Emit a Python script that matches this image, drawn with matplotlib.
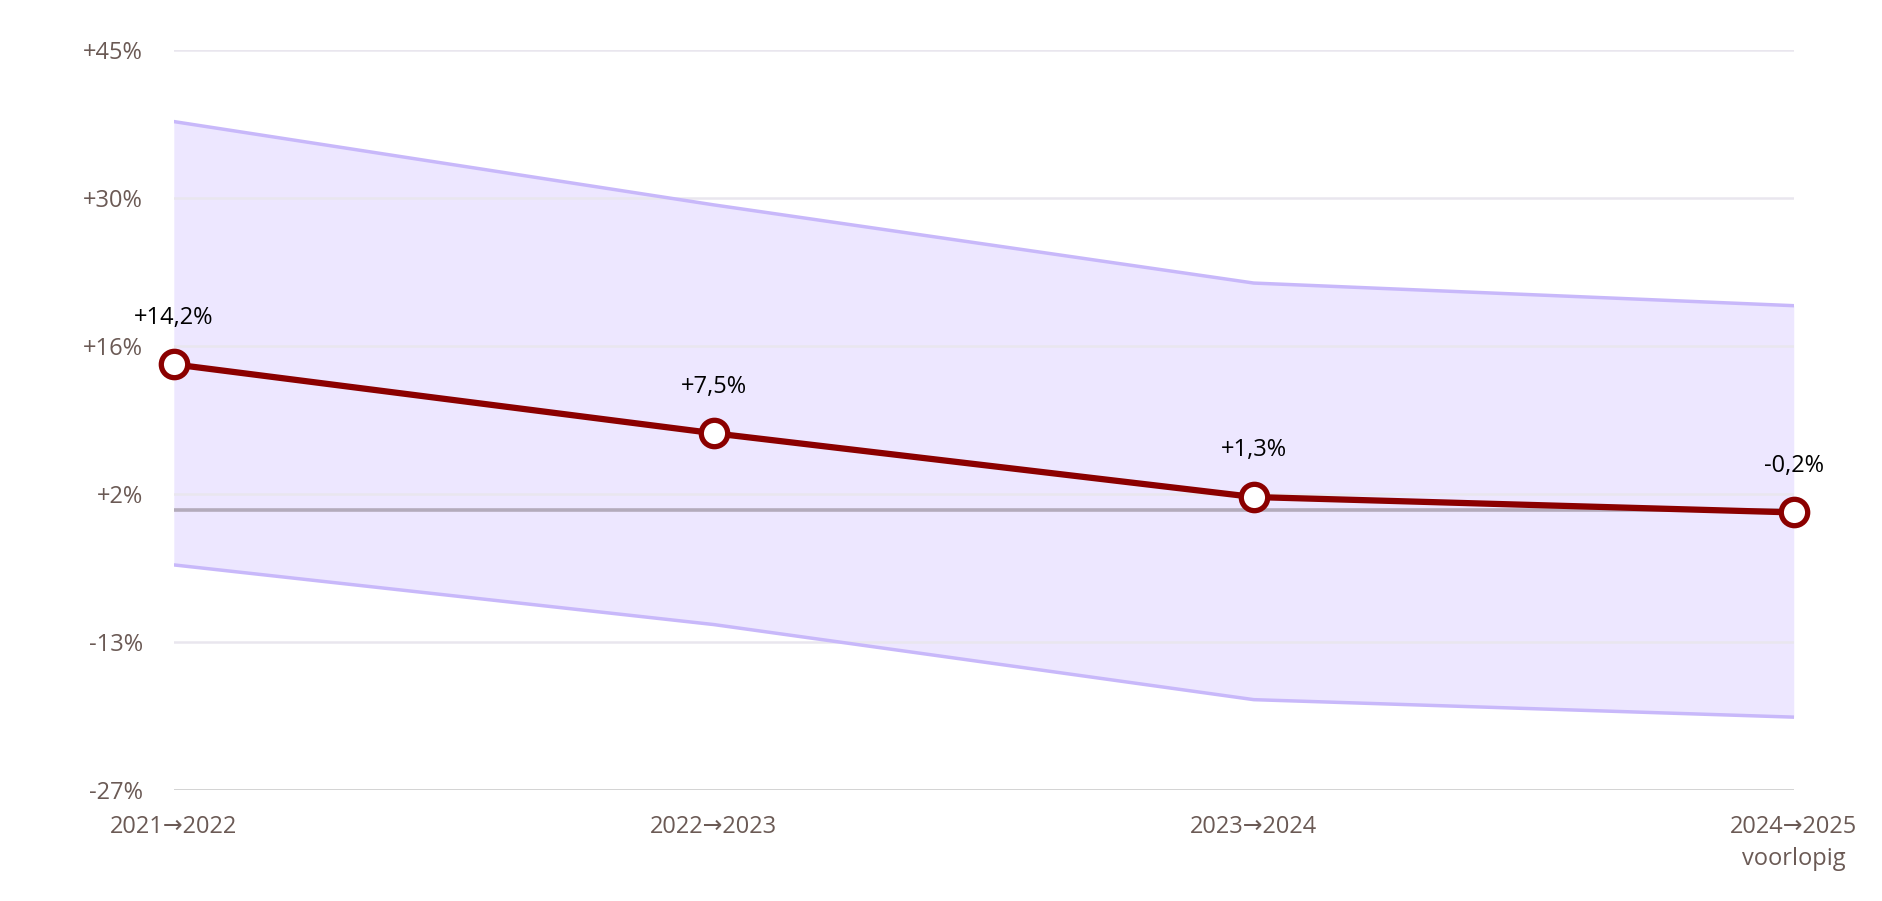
import matplotlib as mpl
mpl.use("Agg")
import matplotlib.pyplot as plt

periods = ["2021→2022", "2022→2023", "2023→2024", "2024→2025\nvoorlopig"]
change = [14.2, 7.5, 1.3, -0.2]
labels = ["+14,2%", "+7,5%", "+1,3%", "-0,2%"]
upper = [37.8, 29.7, 22.1, 19.9]
lower = [-5.3, -11.1, -18.4, -20.1]
yticks = [-27.2, -12.8, 1.6, 16.0, 30.4, 44.8]
ytick_labels = ["-27%", "-13%", "+2%", "+16%", "+30%", "+45%"]

FONT = ["Open Sans", "DejaVu Sans"]
plt.rcParams["font.family"] = FONT
TICK = "#6b5a55"

fig = plt.figure(figsize=(18.83, 9.01), dpi=100)
ax = fig.add_axes([0.0923, 0.123, 0.8603, 0.822])
x = list(range(len(periods)))

for i, t in enumerate(yticks):
    ax.axhline(t, color="#cfcfcf" if i == 0 else "#e9e6ee", lw=2 if i == 0 else 1.8, zorder=1)
ax.axhline(0, color="#b3abbb", lw=2.6, zorder=2)

ax.fill_between(x, lower, upper, color="#ede7ff", lw=0, zorder=0)
ax.plot(x, upper, color="#c8b8fa", lw=2.5, zorder=2)
ax.plot(x, lower, color="#c8b8fa", lw=2.5, zorder=2)

ax.plot(x, change, color="#8b0000", lw=4.5, marker="o", ms=19, mfc="white",
        mec="#8b0000", mew=3.8, zorder=4, clip_on=False)
for xi, v, s in zip(x, change, labels):
    ax.annotate(s, (xi, v), xytext=(0, 25), textcoords="offset points",
                ha="center", va="bottom", fontsize=17, color="black", zorder=5)

ax.set_xlim(0, 3)
ax.set_ylim(-27.2, 44.8)
ax.set_yticks(yticks)
ax.set_yticklabels(ytick_labels)
ax.set_xticks(x)
ax.set_xticklabels(periods, linespacing=1.45)
ax.tick_params(length=0, labelsize=17, labelcolor=TICK)
ax.tick_params(axis="y", pad=22)
ax.tick_params(axis="x", pad=18)
for sp in ax.spines.values():
    sp.set_visible(False)

fig.savefig("out.png", dpi=100)
